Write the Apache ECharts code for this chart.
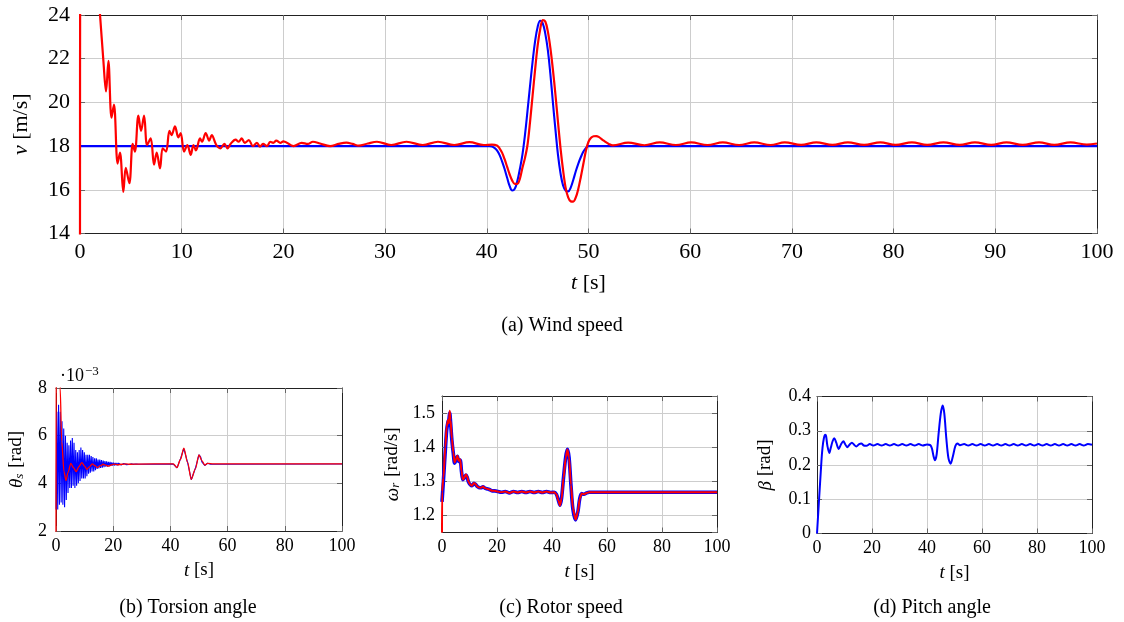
<!DOCTYPE html>
<html>
<head>
<meta charset="utf-8">
<script src="https://cdn.jsdelivr.net/npm/echarts@6/dist/echarts.min.js"></script>
<style>
html,body{margin:0;padding:0;background:#fff}
#c{width:1124px;height:622px}
</style>
</head>
<body>
<div id="c"></div>
<script>
// ---- Wind speed [m/s]: reference profile (blue) and estimate (red) ----
const windRef = [[0,18],[40,18],[40.25,18.0],[40.5,17.98],[40.75,17.92],[41.0,17.8],[41.25,17.6],[41.5,17.3],[41.75,16.95],[42.0,16.55],[42.25,16.17],[42.5,15.97],[42.75,16.05],[43.0,16.4],[43.25,16.95],[43.5,17.6],[43.75,18.5],[44.0,19.6],[44.25,20.75],[44.5,21.85],[44.75,22.8],[45.0,23.45],[45.25,23.74],[45.5,23.62],[45.75,23.15],[46.0,22.4],[46.25,21.3],[46.5,20.0],[46.75,18.75],[47.0,17.6],[47.25,16.75],[47.5,16.2],[47.75,15.97],[48.0,15.93],[48.25,16.1],[48.5,16.45],[48.75,16.85],[49.0,17.2],[49.25,17.5],[49.5,17.75],[49.75,17.92],[50.0,18.0],[50.5,18],[60,18],[100,18]];
const windEst = [[0,13],[0.03,30],[1.2,28],[1.6,26.2],[1.97,24],[2.3,21.9],[2.56,20.5],[2.79,21.9],[3.1,19.3],[3.34,19.9],[3.7,17.2],[3.93,17.7],[4.26,15.9],[4.5,17.0],[4.85,16.3],[5.18,18.1],[5.4,17.75],[5.74,19.4],[6.0,18.7],[6.3,19.4],[6.6,18.05],[6.95,18.35],[7.28,17.15],[7.54,17.7],[7.87,16.98],[8.13,17.9],[8.46,17.75],[8.79,18.7],[9.0,18.5],[9.34,18.9],[9.67,18.4],[9.9,18.6],[10.23,17.75],[10.56,18.05],[10.89,17.6],[11.15,18.05],[11.4,17.8],[11.8,18.35],[12.0,18.2],[12.36,18.6],[12.7,18.25],[12.95,18.5],[13.4,18.05],[13.8,17.9],[14.2,18.1],[14.5,17.9],[14.8,18.1],[15.3,18.3],[15.6,18.2],[15.9,18.35],[16.2,18.15],[16.6,18.27],[17.0,18.0],[17.4,18.15],[17.7,17.97],[18.0,18.1],[18.4,18.0],[18.7,18.2],[19.0,18.15],[19.3,18.25],[19.7,18.15],[20.0,18.22],[21.0,18.0],[21.8,18.15],[22.4,18.1],[22.9,18.2],[23.6,18.12],[24.6,18.0],[25.4,18.1],[26.2,18.16],[26.8,18.1],[27.4,18.02],[28.3,18.12],[29.2,18.2],[30.6,18.05],[32.1,18.2],[33.7,18.05],[35.2,18.2],[36.8,18.05],[38.3,18.18],[39.7,18.05],[40.5,18.07],[41.0,18.03],[41.25,17.9],[41.5,17.7],[41.75,17.4],[42.0,17.05],[42.25,16.7],[42.5,16.42],[42.75,16.27],[43.0,16.27],[43.25,16.5],[43.5,17.0],[43.75,17.45],[44.0,18.05],[44.25,19.1],[44.5,20.3],[44.75,21.5],[45.0,22.6],[45.25,23.35],[45.5,23.77],[45.75,23.7],[46.0,23.25],[46.25,22.5],[46.5,21.5],[46.75,20.35],[47.0,19.1],[47.25,17.9],[47.5,16.9],[47.75,16.1],[48.0,15.65],[48.25,15.47],[48.5,15.46],[48.75,15.65],[49.0,16.05],[49.25,16.6],[49.5,17.2],[49.75,17.8],[50.0,18.2],[50.25,18.38],[50.5,18.45],[50.76,18.46],[51.0,18.42],[51.5,18.25],[52.0,18.1],[52.4,18.03],[53.9,18.16],[55.5,18.04],[57.0,18.17],[58.6,18.05],[60.1,18.17],[61.7,18.05],[63.2,18.17],[64.8,18.05],[66.3,18.17],[67.9,18.05],[69.3,18.17],[70.9,18.06],[72.4,18.17],[74.0,18.06],[75.5,18.17],[77.1,18.06],[78.7,18.17],[80.2,18.06],[81.8,18.17],[83.3,18.06],[84.9,18.17],[86.5,18.06],[88.0,18.17],[89.6,18.06],[91.1,18.17],[92.7,18.06],[94.3,18.17],[95.8,18.06],[97.4,18.17],[99.0,18.07],[100,18.12]];

// ---- Torsion angle [1e-3 rad] ----
const torsionBlue = [[0,2.9],[0.3,7.0],[0.6,2.9],[0.9,7.3],[1.2,3.1],[1.5,7.0],[1.8,3.2],[2.1,6.6],[2.4,3.1],[2.7,6.3],[3.0,3.0],[3.3,6.0],[3.6,3.3],[3.9,5.7],[4.2,3.6],[4.5,5.6],[4.8,3.8],[5.1,5.8],[5.4,3.8],[5.7,5.9],[6.0,3.9],[6.3,5.7],[6.6,3.8],[6.9,5.4],[7.2,3.9],[7.5,5.3],[7.8,4.0],[8.1,5.4],[8.4,4.1],[8.7,5.5],[9.0,4.2],[9.3,5.4],[9.6,4.2],[9.9,5.3],[10.2,4.2],[10.5,5.2],[10.8,4.3],[11.1,5.2],[11.4,4.4],[11.7,5.2],[12.0,4.45],[12.3,5.15],[12.6,4.5],[12.9,5.1],[13.2,4.5],[13.5,5.05],[13.8,4.55],[14.1,5.05],[14.4,4.6],[14.7,5.0],[15.0,4.62],[15.3,5.0],[15.6,4.65],[15.9,4.98],[16.2,4.66],[16.5,4.95],[16.8,4.68],[17.1,4.93],[17.4,4.7],[17.7,4.92],[18.0,4.7],[18.3,4.9],[18.6,4.72],[18.9,4.9],[19.2,4.73],[19.5,4.88],[19.8,4.74],[20.1,4.87],[20.4,4.75],[20.7,4.86],[21.0,4.76],[21.3,4.85],[21.6,4.76],[21.9,4.85],[22.2,4.77],[22.5,4.84],[22.8,4.77],[23.1,4.84],[23.4,4.78],[23.7,4.83],[24.0,4.78],[24.3,4.83],[24.6,4.785],[24.9,4.82],[25.5,4.79],[26.2,4.815],[27,4.795],[28,4.81],[29,4.8],[41,4.81],[42.3,4.65],[43.5,5.02],[44.7,5.46],[46,4.88],[47.3,4.15],[48.7,4.62],[50,5.2],[50.6,5.1],[51,4.9],[52,4.75],[53,4.84],[54,4.8],[100,4.81]];
const torsionRed = [[0,1.5],[0.05,9.5],[1.2,9.5],[1.45,8.0],[2.0,5.75],[2.8,4.49],[3.5,4.12],[4.2,4.45],[5.2,4.84],[6.1,4.66],[7.05,4.49],[8.0,4.7],[9.05,4.87],[10.0,4.72],[10.8,4.59],[11.8,4.7],[12.7,4.82],[13.6,4.74],[14.5,4.66],[15.5,4.74],[16.5,4.8],[17.4,4.76],[18.3,4.72],[19.3,4.77],[20.3,4.81],[21.5,4.78],[23,4.8],[24.5,4.82],[26,4.8],[28,4.81],[41,4.82],[42.3,4.66],[43.5,5.0],[44.7,5.48],[46,4.88],[47.3,4.17],[48.7,4.6],[50.0,5.19],[51,4.95],[52,4.77],[53,4.84],[55,4.82],[100,4.82]];

// ---- Rotor speed [rad/s] ----
const rotorBlue = [[0,1.24],[0.5,1.30],[1.2,1.39],[1.7,1.45],[2.2,1.475],[2.5,1.48],[2.8,1.50],[3.1,1.475],[3.6,1.42],[4.1,1.383],[4.6,1.353],[5.1,1.362],[5.6,1.373],[6.1,1.358],[6.6,1.362],[7.1,1.328],[7.6,1.305],[8.1,1.31],[8.7,1.318],[9.1,1.313],[9.7,1.297],[10.3,1.29],[10.9,1.287],[11.6,1.294],[12.2,1.291],[12.8,1.285],[13.4,1.282],[14.2,1.281],[14.9,1.284],[15.6,1.28],[16.3,1.278],[17.2,1.276],[18.2,1.272],[19.2,1.272],[20.3,1.27],[21.5,1.268],[23,1.27],[24.5,1.266],[26,1.27],[27.5,1.267],[29,1.27],[30.5,1.267],[32,1.27],[33.5,1.267],[35,1.27],[36.5,1.267],[38,1.27],[39.5,1.267],[40.8,1.268],[41.6,1.262],[42.3,1.245],[42.9,1.23],[43.5,1.252],[44.2,1.312],[45.0,1.372],[45.6,1.394],[46.2,1.37],[46.9,1.288],[47.6,1.218],[48.6,1.187],[49.4,1.21],[50.1,1.25],[50.8,1.264],[51.6,1.262],[52.6,1.266],[53.5,1.268],[100,1.268]];
const rotorRed = [[0,1.15],[0.05,1.27],[0.5,1.31],[1.2,1.40],[1.7,1.46],[2.2,1.48],[2.5,1.47],[2.8,1.507],[3.1,1.48],[3.6,1.425],[4.1,1.385],[4.6,1.355],[5.1,1.365],[5.6,1.375],[6.1,1.36],[6.6,1.365],[7.1,1.33],[7.6,1.305],[8.1,1.31],[8.7,1.32],[9.1,1.315],[9.7,1.298],[10.3,1.29],[10.9,1.287],[11.6,1.295],[12.2,1.292],[12.8,1.285],[13.4,1.282],[14.2,1.281],[14.9,1.285],[15.6,1.28],[16.3,1.278],[17.2,1.276],[18.2,1.272],[19.2,1.272],[20.3,1.27],[21.5,1.268],[23,1.27],[24.5,1.266],[26,1.27],[27.5,1.267],[29,1.27],[30.5,1.267],[32,1.27],[33.5,1.267],[35,1.27],[36.5,1.267],[38,1.27],[39.5,1.267],[40.8,1.268],[41.6,1.262],[42.3,1.245],[42.9,1.229],[43.5,1.25],[44.2,1.31],[45.0,1.37],[45.6,1.393],[46.2,1.37],[46.9,1.29],[47.6,1.22],[48.6,1.188],[49.4,1.21],[50.1,1.25],[50.8,1.264],[51.6,1.262],[52.6,1.266],[53.5,1.268],[100,1.268]];

// ---- Pitch angle [rad] ----
const pitch = [[0,0],[1.6,0.21],[2.0,0.25],[2.5,0.278],[3.0,0.288],[3.3,0.285],[3.8,0.255],[4.5,0.235],[5.0,0.25],[5.7,0.27],[6.3,0.278],[7.0,0.265],[7.9,0.247],[8.7,0.26],[9.6,0.269],[10.3,0.26],[11.0,0.252],[11.9,0.26],[12.7,0.265],[13.5,0.259],[14.3,0.254],[15.2,0.26],[16.1,0.263],[17.0,0.257],[18.0,0.256],[19.2,0.261],[20.5,0.257],[22,0.261],[23.5,0.257],[25,0.261],[26.5,0.257],[28,0.261],[29.5,0.257],[31,0.261],[32.5,0.257],[34,0.261],[35.5,0.257],[37,0.261],[38.5,0.257],[40,0.26],[41.2,0.258],[41.8,0.248],[42.4,0.225],[42.9,0.214],[43.5,0.23],[44.2,0.29],[45.0,0.35],[45.7,0.374],[46.3,0.35],[47.0,0.28],[47.8,0.22],[48.6,0.204],[49.4,0.225],[50.3,0.255],[51.1,0.263],[52,0.258],[53.5,0.261],[55,0.257],[56.5,0.261],[58,0.257],[59.5,0.261],[61,0.257],[62.5,0.261],[64,0.257],[65.5,0.261],[67,0.257],[68.5,0.261],[70,0.257],[71.5,0.261],[73,0.257],[74.5,0.261],[76,0.257],[77.5,0.261],[79,0.257],[80.5,0.261],[82,0.257],[83.5,0.261],[85,0.257],[86.5,0.261],[88,0.257],[89.5,0.261],[91,0.257],[92.5,0.261],[94,0.257],[95.5,0.261],[97,0.257],[98.5,0.261],[100,0.259]];

// Panel captions
const captions = ['(a) Wind speed', '(b) Torsion angle', '(c) Rotor speed', '(d) Pitch angle'];

const FONT = '"Liberation Serif","DejaVu Serif","Times New Roman",serif';
const BLUE = '#0000ff', RED = '#ff0000';

// layout of the four plot boxes
const panels = [
  {left:80, top:15, width:1017, height:218.5, xInt:10, yMin:14, yMax:24, yInt:2,
   tick:22, nameSize:22, xMargin:8, yMargin:10, xGap:39, yGap:48,
   yName:'{i|v} [m/s]'},
  {left:56, top:388, width:286, height:143, xInt:20, yMin:2, yMax:8, yInt:2,
   tick:18, nameSize:19, xMargin:6, yMargin:9, xGap:30, yGap:30,
   yName:'{i|θ}{s|s} [rad]'},
  {left:442, top:396, width:275, height:136.5, xInt:20, yMin:1.15, yMax:1.55, yInt:null,
   tick:18, nameSize:19, xMargin:6, yMargin:7, xGap:30, yGap:40,
   yName:'{i|ω}{s|r} [rad/s]'},
  {left:817, top:396.5, width:275, height:137, xInt:20, yMin:0, yMax:0.4, yInt:0.1,
   tick:18, nameSize:19, xMargin:6, yMargin:6, xGap:30, yGap:42,
   yName:'{i|β} [rad]'}
];

function richFor(size) {
  return {
    i: {fontFamily: FONT, fontStyle: 'italic', fontSize: size, color: '#000'},
    s: {fontFamily: FONT, fontStyle: 'italic', fontSize: Math.round(size * 0.68), color: '#000', verticalAlign: 'bottom', padding: [0, 1, 0, 0]}
  };
}

const frame = {show: true, onZero: false, lineStyle: {color: '#222', width: 1}};
const ticksIn = {show: true, inside: true, length: 5, lineStyle: {color: '#666', width: 1}};
const grid = [], xAxis = [], yAxis = [];

panels.forEach((p, g) => {
  grid.push({left: p.left, top: p.top, width: p.width, height: p.height, containLabel: false, outerBoundsMode: 'none'});
  const xBase = {type: 'value', gridIndex: g, min: 0, max: 100, interval: p.xInt};
  const yBase = {type: 'value', gridIndex: g, min: p.yMin, max: p.yMax, scale: true};
  if (p.yInt) yBase.interval = p.yInt;
  xAxis.push(Object.assign({}, xBase, {
    position: 'bottom', axisLine: frame, axisTick: ticksIn,
    axisLabel: {margin: p.xMargin, fontFamily: FONT, fontSize: p.tick, color: '#000'},
    splitLine: {show: true, showMinLine: false, showMaxLine: false, lineStyle: {color: '#cdcdcd', width: 1}},
    name: '{i|t} [s]', nameLocation: 'middle', nameGap: p.xGap,
    nameTextStyle: {fontFamily: FONT, fontSize: p.nameSize, color: '#000', rich: richFor(p.nameSize)}
  }));
  xAxis.push(Object.assign({}, xBase, {
    position: 'top', axisLine: frame, axisTick: ticksIn,
    axisLabel: {show: false}, splitLine: {show: false}
  }));
  yAxis.push(Object.assign({}, yBase, {
    position: 'left', axisLine: frame, axisTick: ticksIn,
    axisLabel: {margin: p.yMargin, fontFamily: FONT, fontSize: p.tick, color: '#000',
      showMinLabel: p.yInt ? true : false, showMaxLabel: p.yInt ? true : false},
    splitLine: {show: true, showMinLine: false, showMaxLine: false, lineStyle: {color: '#cdcdcd', width: 1}},
    name: p.yName, nameLocation: 'middle', nameGap: p.yGap,
    nameTextStyle: {fontFamily: FONT, fontSize: p.nameSize, color: '#000', rich: richFor(p.nameSize)}
  }));
  yAxis.push(Object.assign({}, yBase, {
    position: 'right', axisLine: frame, axisTick: ticksIn,
    axisLabel: {show: false}, splitLine: {show: false}
  }));
});

function line(g, data, color, width, smooth, monotone, z) {
  const s = {
    type: 'line', xAxisIndex: 2 * g, yAxisIndex: 2 * g, data: data,
    showSymbol: false, symbol: 'none', clip: true, animation: false,
    smooth: smooth, z: z,
    lineStyle: {color: color, width: width}
  };
  if (monotone) s.smoothMonotone = 'x';
  return s;
}

const series = [
  line(0, windRef, BLUE, 2.1, 0.4, false, 3),
  line(0, windEst, RED, 2.2, 0.35, false, 4),
  line(1, torsionBlue, BLUE, 1.1, false, false, 3),
  line(1, torsionRed, RED, 1.3, 0.3, true, 4),
  line(2, rotorBlue, BLUE, 3.6, 0.3, false, 3),
  line(2, rotorRed, RED, 2.0, 0.3, true, 4),
  line(3, pitch, BLUE, 2.0, 0.3, false, 3)
];

const capStyle = {fontFamily: FONT, fontSize: 20, fill: '#000', textAlign: 'center', textVerticalAlign: 'middle'};
const capPos = [[562, 326], [188, 608], [561, 608], [932, 608]];
const graphic = captions.map((c, i) => ({
  type: 'text', x: capPos[i][0], y: capPos[i][1],
  style: Object.assign({text: c}, capStyle)
}));
// exponent multiplier of the torsion-angle axis
graphic.push({
  type: 'text', x: 60, y: 376,
  style: {text: '·10{sup|−3}', fontFamily: FONT, fontSize: 18, fill: '#000', textVerticalAlign: 'middle',
    rich: {sup: {fontFamily: FONT, fontSize: 13, verticalAlign: 'top', padding: [0, 0, 8, 1]}}}
});

const chart = echarts.init(document.getElementById('c'), null, {renderer: 'canvas'});
chart.setOption({
  animation: false,
  backgroundColor: '#fff',
  grid: grid, xAxis: xAxis, yAxis: yAxis, series: series, graphic: graphic
});
</script>
</body>
</html>
